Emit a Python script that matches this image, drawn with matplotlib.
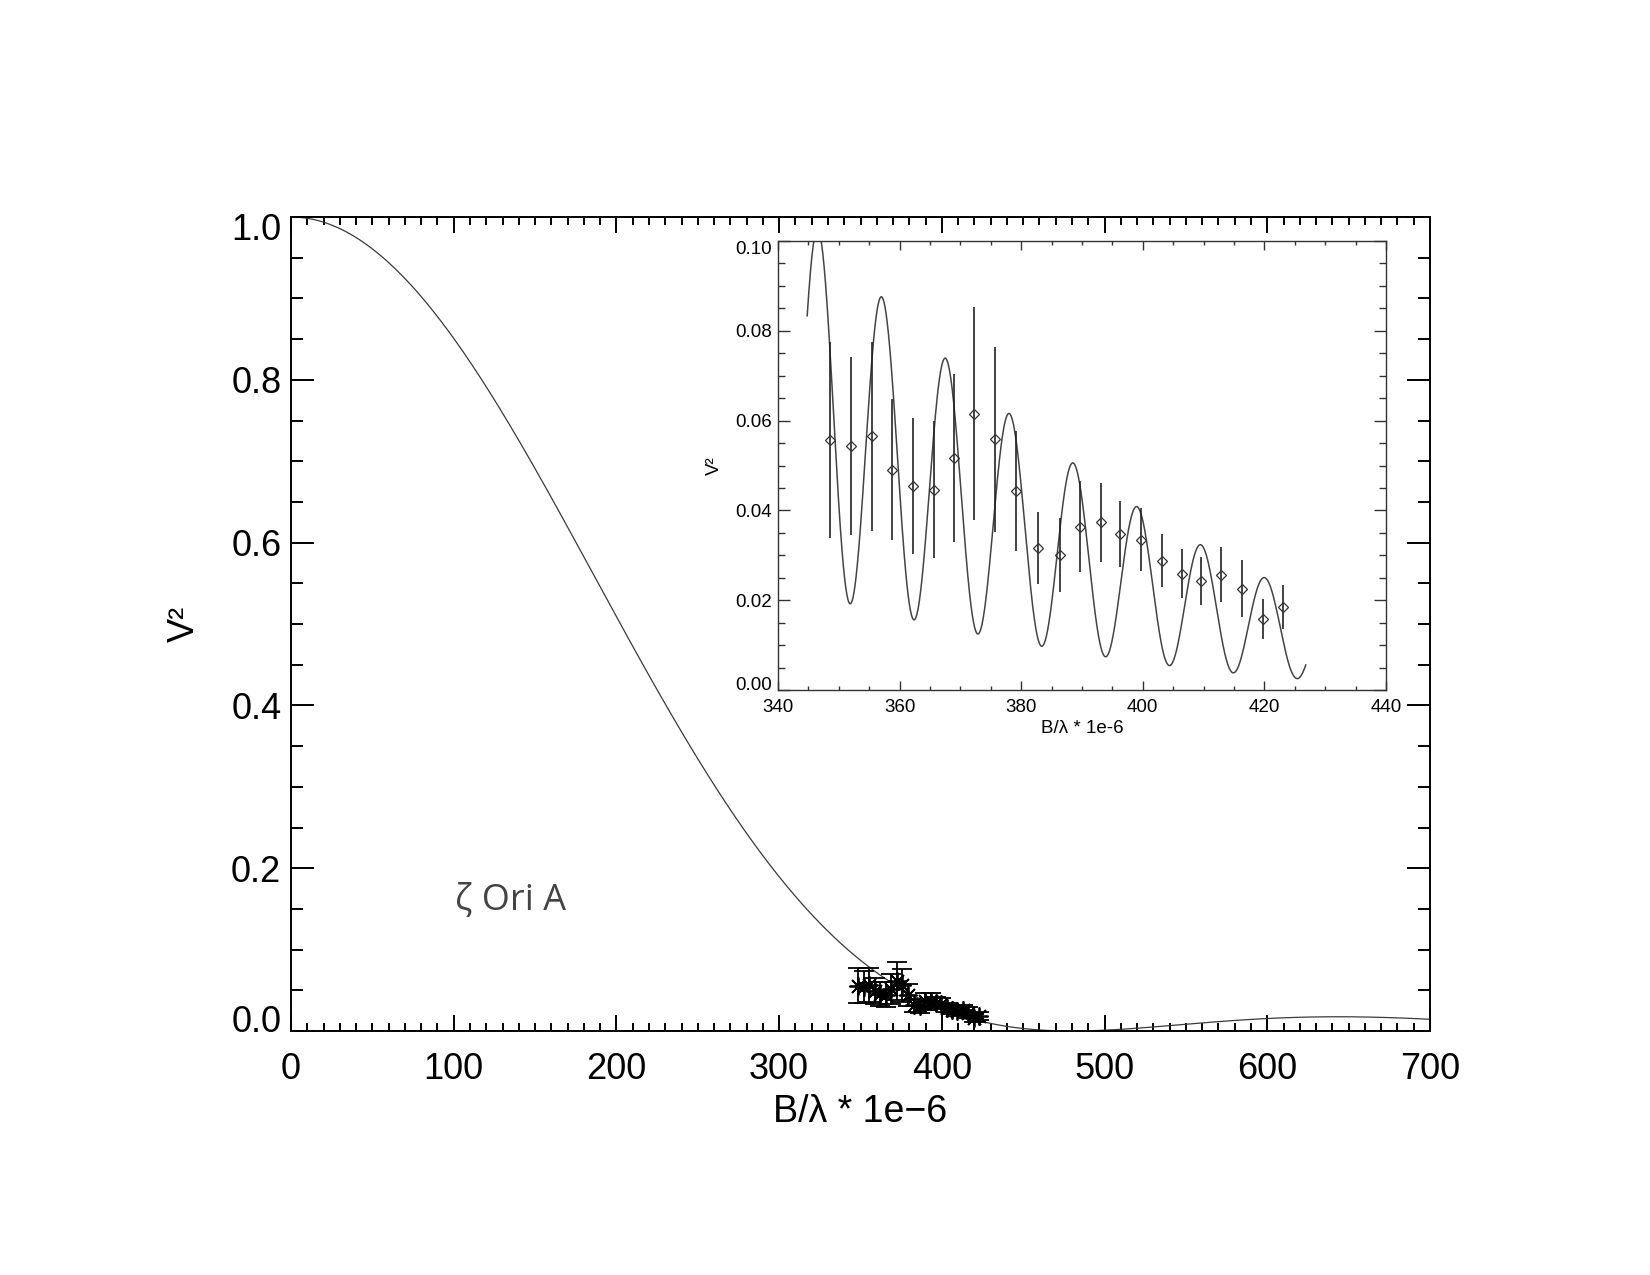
import numpy as np
import matplotlib
matplotlib.use('Agg')
import matplotlib.pyplot as plt
from matplotlib.ticker import MultipleLocator, FormatStrFormatter
from matplotlib.transforms import ScaledTranslation

plt.rcParams['font.family'] = ['Liberation Sans', 'DejaVu Sans']

# measured V^2 points (B/lambda in units of 1e6)
u_obs = [348.5, 352.0, 355.4, 358.8, 362.2, 365.6, 368.9, 372.2, 375.7, 379.2,
         382.8, 386.3, 389.7, 393.1, 396.3, 399.7, 403.1, 406.4, 409.6, 412.9,
         416.3, 419.7, 423.1]
v2_obs = [0.0557, 0.0543, 0.0565, 0.0490, 0.0454, 0.0446, 0.0516, 0.0615, 0.0559, 0.0443,
          0.0317, 0.0301, 0.0364, 0.0374, 0.0347, 0.0335, 0.0288, 0.0259, 0.0243, 0.0257,
          0.0226, 0.0158, 0.0185]
v2_err = [0.0218, 0.0198, 0.0210, 0.0157, 0.0151, 0.0153, 0.0187, 0.0237, 0.0206, 0.0134,
          0.0080, 0.0083, 0.0102, 0.0088, 0.0074, 0.0070, 0.0059, 0.0055, 0.0054, 0.0062,
          0.0064, 0.0045, 0.0049]

# model parameters
ud_null = 480.0                      # single uniform disk, main panel
prim_flux, prim_null = 0.68, 500.0   # binary model, inset
sec_flux, sec_null = 0.204, 550.0
fringe_period = 10.503
main_range = (0.0, 700.0)
inset_range = (344.8, 426.8)


def bessel_j1(x):
    tau = np.linspace(0, np.pi, 721)
    integrand = np.cos(tau[None, :] - x[:, None] * np.sin(tau[None, :]))
    return np.trapezoid(integrand, tau, axis=1) / np.pi


def ud_vis(u, null):
    x = 3.8317 * u / null
    x = np.where(x == 0, 1e-9, x)
    return 2 * bessel_j1(x) / x


u_main = np.linspace(main_range[0], main_range[1], 1400)
v2_main = ud_vis(u_main, ud_null) ** 2

u_in = np.linspace(inset_range[0], inset_range[1], 1500)
a = prim_flux * ud_vis(u_in, prim_null)
b = sec_flux * ud_vis(u_in, sec_null)
v2_in = a**2 + b**2 + 2 * a * b * np.cos(2 * np.pi * u_in / fringe_period)

fig = plt.figure(figsize=(16.5, 12.75), dpi=100)

# ---- main panel
ax = fig.add_axes([291/1650, 1 - 1031/1275, 1139/1650, 814/1275])
ax.plot(u_main, v2_main, color='#3a3a3a', lw=0.9)
ax.errorbar(u_obs, v2_obs, yerr=v2_err, fmt='none', ecolor='black',
            elinewidth=1.3, capsize=7, capthick=1.3)
ax.plot(u_obs, v2_obs, ls='none', marker=(8, 2, 0), ms=13, mec='black', mew=1.3)

ax.set_xlim(0, 700)
ax.set_ylim(0, 1)
ax.xaxis.set_major_locator(MultipleLocator(100))
ax.xaxis.set_minor_locator(MultipleLocator(10))
ax.yaxis.set_major_locator(MultipleLocator(0.2))
ax.yaxis.set_minor_locator(MultipleLocator(0.05))
ax.yaxis.set_major_formatter(FormatStrFormatter('%.1f'))
ax.tick_params(which='both', direction='in', top=True, right=True, width=1.4, color='black')
ax.tick_params(axis='x', which='major', length=11.5, pad=15, labelsize=26)
ax.tick_params(axis='x', which='minor', length=5.8)
ax.tick_params(axis='y', which='major', length=16.5, pad=7, labelsize=26)
ax.tick_params(axis='y', which='minor', length=8.3)
for s in ax.spines.values():
    s.set_linewidth(1.4)

ax.set_xlabel('B/λ * 1e−6', fontsize=27)
ax.xaxis.set_label_coords(0.5, -0.077)
ax.set_ylabel('V²', fontsize=26)
ax.yaxis.set_label_coords(-0.078, 0.5)

ax.text(101, 0.150, 'ζ Ori A', fontsize=26, color='#444444',
        family=['Open Sans', 'DejaVu Sans'], ha='left', va='baseline')

# ---- inset
ins = fig.add_axes([778/1650, 1 - 690/1275, 608/1650, 449/1275])
ins.plot(u_in, v2_in, color='#444444', lw=1.1)
ins.errorbar(u_obs, v2_obs, yerr=v2_err, fmt='D', ms=5.5, mfc='none', mec='#333333',
             mew=0.9, ecolor='#222222', elinewidth=1.2, capsize=0)
ins.set_xlim(340, 440)
ins.set_ylim(0, 0.1)
ins.xaxis.set_major_locator(MultipleLocator(20))
ins.xaxis.set_minor_locator(MultipleLocator(5))
ins.yaxis.set_major_locator(MultipleLocator(0.02))
ins.yaxis.set_minor_locator(MultipleLocator(0.005))
ins.yaxis.set_major_formatter(FormatStrFormatter('%.2f'))
ins.tick_params(which='both', direction='in', top=True, right=True, width=1.0, color='#333333')
ins.tick_params(axis='x', which='major', length=6.5, pad=6.5, labelsize=13.5)
ins.tick_params(axis='x', which='minor', length=3.2)
ins.tick_params(axis='y', which='major', length=8.6, pad=4.5, labelsize=13.5)
ins.tick_params(axis='y', which='minor', length=5)
for s in ins.spines.values():
    s.set_linewidth(1.0)
    s.set_color('#333333')
ins.set_xlabel('B/λ * 1e-6', fontsize=13.5)
ins.xaxis.set_label_coords(0.5, -0.067)
ins.set_ylabel('V²', fontsize=13.5)
ins.yaxis.set_label_coords(-0.09, 0.5)

# end labels on the y axes sit inside the frame, as in the original
shifts = {(ax, '1.0'): -10, (ax, '0.0'): 12, (ins, '0.10'): -6, (ins, '0.00'): 7}
for (axis_obj, txt), dy in shifts.items():
    for lab in axis_obj.get_yticklabels():
        if lab.get_text() == txt:
            lab.set_transform(lab.get_transform() +
                              ScaledTranslation(0, dy / 100, fig.dpi_scale_trans))

fig.savefig('out.png', dpi=100, facecolor='white')
